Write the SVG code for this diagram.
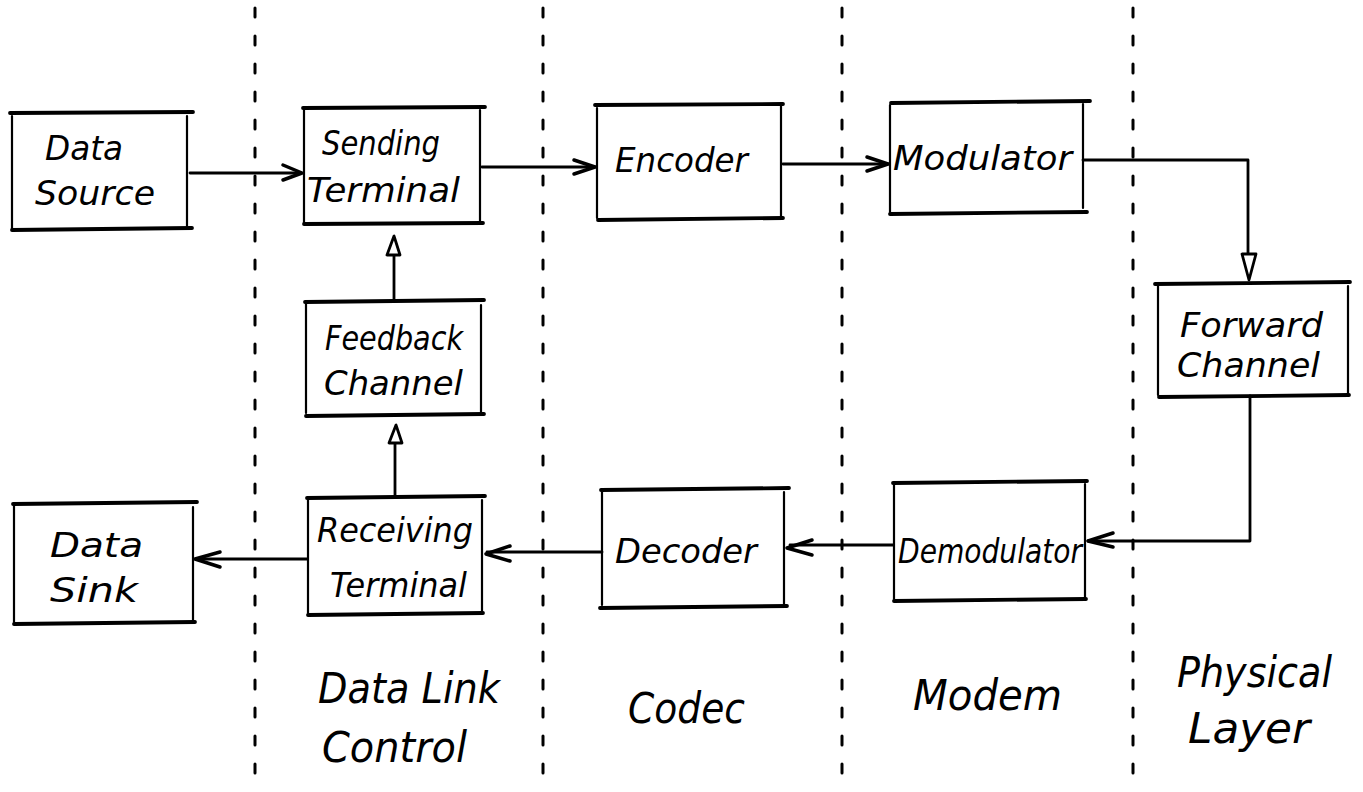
<svg xmlns="http://www.w3.org/2000/svg" width="1363" height="792" viewBox="0 0 1363 792">
  <style>
    .bg { fill: #ffffff; }
    .side { fill: none; stroke: #000; stroke-width: 2.2; stroke-linecap: round; }
    .edge { fill: none; stroke: #000; stroke-width: 3.8; stroke-linecap: round; }
    .wire { fill: none; stroke: #000; stroke-width: 2.8; stroke-linecap: round; stroke-linejoin: round; }
    .tip { fill: none; stroke: #000; stroke-width: 3.5; stroke-linecap: round; stroke-linejoin: round; }
    .tri { fill: #fff; stroke: #000; stroke-width: 2.8; stroke-linejoin: round; }
    .divider { fill: none; stroke: #000; stroke-width: 3; stroke-dasharray: 9 19; stroke-linecap: round; }
    .lbl { font-family: "DejaVu Sans", "Liberation Sans", sans-serif; font-style: italic; font-size: 34px; fill: #000; }
    .layer { font-family: "DejaVu Sans", "Liberation Sans", sans-serif; font-style: italic; font-size: 42px; fill: #000; }
  </style>

  <rect class="bg" x="0" y="0" width="1363" height="792"/>

  <!-- layer boundaries -->
  <g id="dividers">
    <line class="divider" x1="255" y1="8" x2="255" y2="790"/>
    <line class="divider" x1="543" y1="8" x2="543" y2="790"/>
    <line class="divider" x1="842" y1="8" x2="842" y2="790"/>
    <line class="divider" x1="1133" y1="8" x2="1133" y2="790"/>
  </g>

  <!-- connectors -->
  <g id="connectors">
    <!-- Data Source -> Sending Terminal -->
    <path class="wire" d="M190 173 H301"/>
    <path class="tip" d="M283 165 L302 173 L283 180"/>
    <!-- Sending Terminal -> Encoder -->
    <path class="wire" d="M482 167 H595"/>
    <path class="tip" d="M574 160 L595 167 L574 174"/>
    <!-- Encoder -> Modulator -->
    <path class="wire" d="M783 164 H888"/>
    <path class="tip" d="M867 157 L888 164 L867 171"/>
    <!-- Modulator -> Forward Channel -->
    <path class="wire" d="M1083 160 H1248 V254"/>
    <path class="tri" d="M1242 254 H1256 L1249 280 Z"/>
    <!-- Forward Channel -> Demodulator -->
    <path class="wire" d="M1250 396 V541 H1088"/>
    <path class="tip" d="M1113 533 L1088 541 L1113 547"/>
    <!-- Demodulator -> Decoder -->
    <path class="wire" d="M893 545 H790"/>
    <path class="tip" d="M812 540 L787 548 L812 555"/>
    <!-- Decoder -> Receiving Terminal -->
    <path class="wire" d="M602 552 H487"/>
    <path class="tip" d="M510 546 L486 554 L510 561"/>
    <!-- Receiving Terminal -> Data Sink -->
    <path class="wire" d="M307 559 H196"/>
    <path class="tip" d="M220 552 L195 559 L220 567"/>
    <!-- Receiving Terminal -> Feedback Channel -->
    <path class="wire" d="M395 497 V443"/>
    <path class="tri" d="M389 443 H402 L396 425 Z"/>
    <!-- Feedback Channel -> Sending Terminal -->
    <path class="wire" d="M394 301 V255"/>
    <path class="tri" d="M387 255 H400 L394 236 Z"/>
  </g>

  <g id="data-source">
    <path class="side" d="M12 116 V229 M187 116 V226"/>
    <path class="edge" d="M10 113 L193 112 M12 230 L192 228"/>
    <text class="lbl" x="45" y="160" textLength="78" lengthAdjust="spacingAndGlyphs">Data</text>
    <text class="lbl" x="35" y="205" textLength="120" lengthAdjust="spacingAndGlyphs">Source</text>
  </g>

  <g id="sending-terminal">
    <path class="side" d="M304 110 V223 M480 110 V222"/>
    <path class="edge" d="M303 108 L485 107 M304 224 L483 223"/>
    <text class="lbl" x="322" y="155" textLength="118" lengthAdjust="spacingAndGlyphs">Sending</text>
    <text class="lbl" x="307" y="202" textLength="153" lengthAdjust="spacingAndGlyphs">Terminal</text>
  </g>

  <g id="encoder">
    <path class="side" d="M597 108 V218 M781 106 V216"/>
    <path class="edge" d="M595 105 L783 104 M598 220 L783 218"/>
    <text class="lbl" x="615" y="172" textLength="133" lengthAdjust="spacingAndGlyphs">Encoder</text>
  </g>

  <g id="modulator">
    <path class="side" d="M890 105 V212 M1083 104 V208"/>
    <path class="edge" d="M891 103 L1090 101 M890 214 L1087 212"/>
    <text class="lbl" x="893" y="170" textLength="179" lengthAdjust="spacingAndGlyphs">Modulator</text>
  </g>

  <g id="forward-channel">
    <path class="side" d="M1158 286 V395 M1348 286 V394"/>
    <path class="edge" d="M1155 284 L1350 282 M1159 397 L1349 395"/>
    <text class="lbl" x="1180" y="337" textLength="143" lengthAdjust="spacingAndGlyphs">Forward</text>
    <text class="lbl" x="1177" y="377" textLength="143" lengthAdjust="spacingAndGlyphs">Channel</text>
  </g>

  <g id="feedback-channel">
    <path class="side" d="M306 303 V413 M481 305 V412"/>
    <path class="edge" d="M305 302 L484 300 M306 416 L484 414"/>
    <text class="lbl" x="325" y="350" textLength="138" lengthAdjust="spacingAndGlyphs">Feedback</text>
    <text class="lbl" x="324" y="395" textLength="139" lengthAdjust="spacingAndGlyphs">Channel</text>
  </g>

  <g id="receiving-terminal">
    <path class="side" d="M308 500 V613 M482 500 V612"/>
    <path class="edge" d="M307 498 L485 496 M308 615 L483 613"/>
    <text class="lbl" x="317" y="542" textLength="156" lengthAdjust="spacingAndGlyphs">Receiving</text>
    <text class="lbl" x="330" y="597" textLength="137" lengthAdjust="spacingAndGlyphs">Terminal</text>
  </g>

  <g id="data-sink">
    <path class="side" d="M14 506 V622 M193 507 V620"/>
    <path class="edge" d="M13 504 L197 502 M14 624 L195 622"/>
    <text class="lbl" x="50" y="557" textLength="93" lengthAdjust="spacingAndGlyphs">Data</text>
    <text class="lbl" x="50" y="602" textLength="88" lengthAdjust="spacingAndGlyphs">Sink</text>
  </g>

  <g id="decoder">
    <path class="side" d="M602 492 V605 M784 492 V604"/>
    <path class="edge" d="M601 490 L789 488 M600 608 L787 606"/>
    <text class="lbl" x="615" y="563" textLength="142" lengthAdjust="spacingAndGlyphs">Decoder</text>
  </g>

  <g id="demodulator">
    <path class="side" d="M894 485 V599 M1085 484 V597"/>
    <path class="edge" d="M893 483 L1087 481 M894 601 L1086 599"/>
    <text class="lbl" x="898" y="563" textLength="184" lengthAdjust="spacingAndGlyphs">Demodulator</text>
  </g>

  <!-- layer names -->
  <g id="layer-labels">
    <text class="layer" x="318" y="703" textLength="182" lengthAdjust="spacingAndGlyphs">Data Link</text>
    <text class="layer" x="322" y="762" textLength="145" lengthAdjust="spacingAndGlyphs">Control</text>
    <text class="layer" x="628" y="723" textLength="117" lengthAdjust="spacingAndGlyphs">Codec</text>
    <text class="layer" x="913" y="710" textLength="149" lengthAdjust="spacingAndGlyphs">Modem</text>
    <text class="layer" x="1177" y="687" textLength="155" lengthAdjust="spacingAndGlyphs">Physical</text>
    <text class="layer" x="1188" y="743" textLength="122" lengthAdjust="spacingAndGlyphs">Layer</text>
  </g>
</svg>
